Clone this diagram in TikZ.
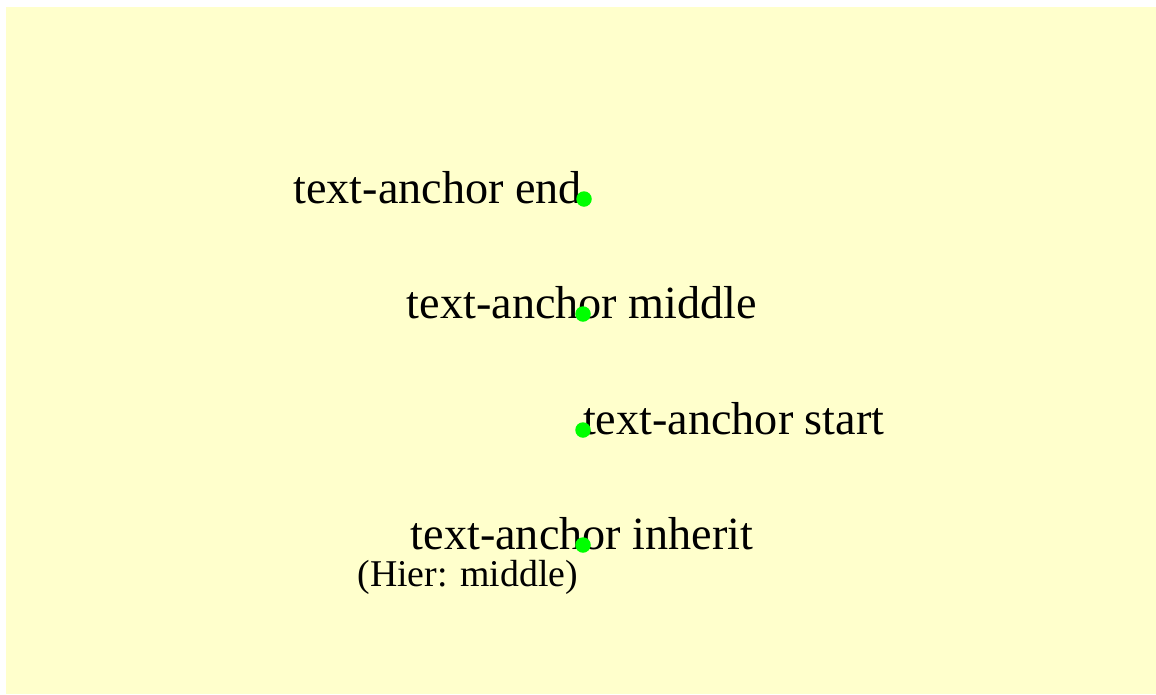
\documentclass[tikz,border=0pt]{standalone}
\usepackage{fontspec}
\setmainfont{Liberation Serif}
\definecolor{bgyellow}{HTML}{FFFFCC}
\definecolor{dotgreen}{HTML}{00FF00}
\tikzset{
  lbl/.style={inner sep=0pt, outer sep=0pt, font=\fontsize{46.2}{46}\selectfont},
  sublbl/.style={inner sep=0pt, outer sep=0pt, font=\fontsize{37.8}{38}\selectfont},
  gdot/.style={circle, fill=dotgreen, draw=none, minimum size=15.5pt, inner sep=0pt}
}
\begin{document}
\begin{tikzpicture}[x=1pt,y=-1pt]
\useasboundingbox (0,0) rectangle (1156,694);
\fill[white] (0,0) rectangle (1156,694);
\fill[bgyellow] (6,7) rectangle (1156,694);
\node[lbl, anchor=base east] (tend) at (582,203) {text-anchor end};
\node[lbl, anchor=base] (tmid) at (582,318) {text-anchor middle};
\node[lbl, anchor=base west] (tstart) at (583,434) {text-anchor start};
\node[lbl, anchor=base] (tinh) at (582,549) {text-anchor inherit};
\node[sublbl, anchor=base east] (thier) at (578,586) {(Hier: middle)};
\node[gdot] (d1) at (584,199) {};
\node[gdot] (d2) at (583,314) {};
\node[gdot] (d3) at (583,430) {};
\node[gdot] (d4) at (583,545) {};
\end{tikzpicture}
\end{document}
